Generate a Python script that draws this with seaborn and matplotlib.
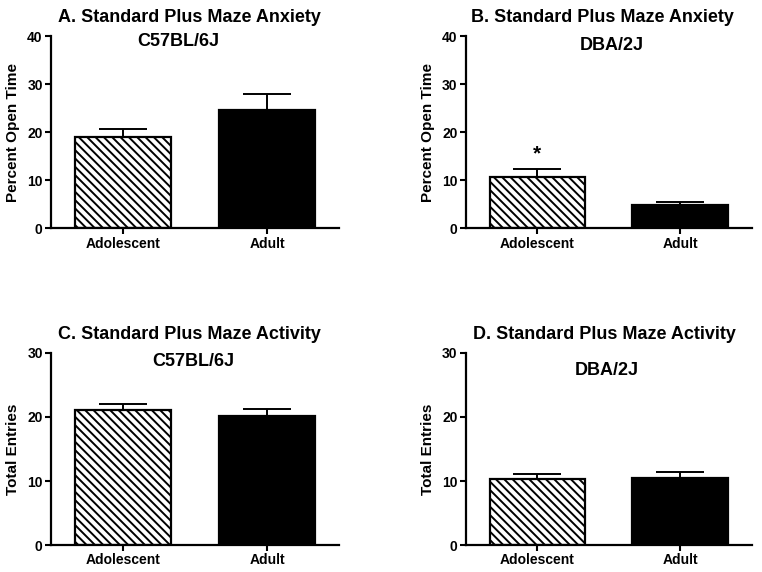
import matplotlib
matplotlib.use("Agg")
import matplotlib.pyplot as plt
import seaborn as sns

# data
groups = ["Adolescent", "Adult"]
anx_c57 = [19.0, 24.7]
anx_c57_err = [1.7, 3.3]
anx_dba = [10.7, 4.9]
anx_dba_err = [1.7, 0.6]
act_c57 = [21.1, 20.2]
act_c57_err = [0.9, 1.1]
act_dba = [10.3, 10.5]
act_dba_err = [0.8, 0.9]

sns.set_style("ticks")
plt.rcParams["font.family"] = ["Liberation Sans", "DejaVu Sans"]
plt.rcParams["font.weight"] = "bold"
plt.rcParams["text.color"] = "black"
plt.rcParams["axes.labelcolor"] = "black"
plt.rcParams["xtick.color"] = "black"
plt.rcParams["ytick.color"] = "black"
plt.rcParams["axes.edgecolor"] = "black"
plt.rcParams["hatch.linewidth"] = 1.4

fig = plt.figure(figsize=(7.62, 5.72), dpi=100)
ax_a = fig.add_axes([0.067, 0.601, 0.378, 0.336])
ax_b = fig.add_axes([0.6115, 0.601, 0.375, 0.336])
ax_c = fig.add_axes([0.067, 0.047, 0.378, 0.336])
ax_d = fig.add_axes([0.6115, 0.047, 0.375, 0.336])

panels = [
    (ax_a, anx_c57, anx_c57_err, "A. Standard Plus Maze Anxiety", "C57BL/6J",
     "Percent Open Time", 40, (0.479, 1.094), (0.441, 0.969)),
    (ax_b, anx_dba, anx_dba_err, "B. Standard Plus Maze Anxiety", "DBA/2J",
     "Percent Open Time", 40, (0.479, 1.094), (0.51, 0.953)),
    (ax_c, act_c57, act_c57_err, "C. Standard Plus Maze Activity", "C57BL/6J",
     "Total Entries", 30, (0.479, 1.094), (0.493, 0.955)),
    (ax_d, act_dba, act_dba_err, "D. Standard Plus Maze Activity", "DBA/2J",
     "Total Entries", 30, (0.483, 1.094), (0.493, 0.911)),
]

for ax, vals, errs, title, strain, ylab, ymax, tpos, spos in panels:
    sns.barplot(x=groups, y=vals, hue=groups, palette=["white", "black"],
                legend=False, errorbar=None, width=0.67, edgecolor="black",
                linewidth=1.6, ax=ax, zorder=2)
    ax.patches[0].set_hatch("\\\\\\\\")
    ax.errorbar([0, 1], vals, yerr=[[0, 0], errs], fmt="none", ecolor="black",
                elinewidth=1.4, capsize=17, capthick=1.4, zorder=1)
    ax.set_xlim(-0.5, 1.5)
    ax.set_ylim(0, ymax)
    ax.set_yticks(range(0, ymax + 1, 10))
    ax.set_ylabel(ylab, fontsize=11, fontweight="bold")
    ax.yaxis.set_label_coords(-0.108, 0.5)
    ax.set_xlabel("")
    ax.tick_params(labelsize=10, width=1.5, length=4, pad=2)
    for lab in ax.get_xticklabels() + ax.get_yticklabels():
        lab.set_fontweight("bold")
    sns.despine(ax=ax)
    ax.spines["left"].set_linewidth(1.6)
    ax.spines["bottom"].set_linewidth(1.6)
    ax.text(tpos[0], tpos[1], title, transform=ax.transAxes, ha="center",
            va="center", fontsize=13, fontweight="bold")
    ax.text(spos[0], spos[1], strain, transform=ax.transAxes, ha="center",
            va="center", fontsize=13, fontweight="bold")

# significance star
ax_b.text(0, 15.4, "*", ha="center", va="center", fontsize=15, fontweight="bold")

fig.savefig("out.png", dpi=100)
